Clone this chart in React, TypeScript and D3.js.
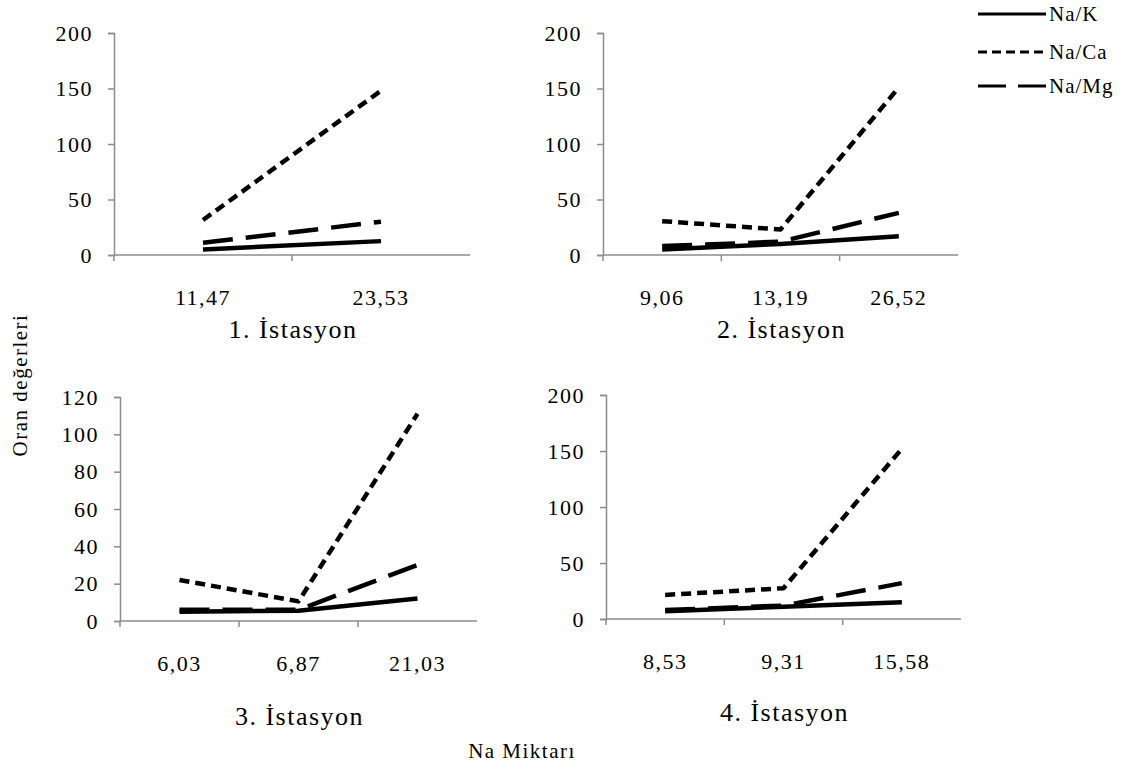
import React, { useEffect, useRef } from 'react'
import * as d3 from 'd3'

const seriesNames = ['Na/K', 'Na/Ca', 'Na/Mg']
const stationTitles = ['1. İstasyon', '2. İstasyon', '3. İstasyon', '4. İstasyon']
const stationCategories = [
  ['11,47', '23,53'],
  ['9,06', '13,19', '26,52'],
  ['6,03', '6,87', '21,03'],
  ['8,53', '9,31', '15,58'],
]
const naK = [
  [5, 12.5],
  [5, 10, 17],
  [5, 5.5, 12],
  [7, 11, 15],
]
const naCa = [
  [31.5, 148],
  [30.5, 23, 151],
  [22, 10.5, 111],
  [21.5, 27.5, 152],
]
const naMg = [
  [11, 30],
  [8, 12, 38],
  [6, 6, 30],
  [8, 12, 32],
]
const yMax = [200, 200, 120, 200]
const yStep = [50, 50, 20, 50]

// panel boxes: x0, x1 of axis, top (ymax) and bottom (zero)
const panels = [
  { x0: 114, x1: 470, top: 33, bottom: 255, titleY: 338 },
  { x0: 603, x1: 958, top: 33, bottom: 255, titleY: 338 },
  { x0: 120, x1: 477, top: 397, bottom: 621, titleY: 725 },
  { x0: 606, x1: 961, top: 395, bottom: 619, titleY: 721 },
]

const dashes = ['none', '10,6', '30,13']
const font = '"Liberation Serif", "Times New Roman", serif'

const styleText = (sel: any, size: number, ls: number) =>
  sel.attr('font-family', font).attr('font-size', size).attr('letter-spacing', ls).attr('fill', '#000')

export default function App() {
  const ref = useRef<SVGSVGElement>(null)

  useEffect(() => {
    const svg = d3.select(ref.current)
    svg.selectAll('*').remove()

    panels.forEach((p, i) => {
      const cats = stationCategories[i]
      const x = d3.scaleBand().domain(cats).range([p.x0, p.x1]).padding(0)
      const y = d3.scaleLinear().domain([0, yMax[i]]).range([p.bottom, p.top])
      const g = svg.append('g')

      const yAxis = d3.axisLeft(y).tickValues(d3.range(0, yMax[i] + 1, yStep[i])).tickSize(6).tickPadding(15)
      const ya = g.append('g').attr('transform', `translate(${p.x0},0)`).call(yAxis)
      ya.select('.domain').attr('stroke', '#8c8c8c').attr('stroke-width', 1.5)
      ya.selectAll('.tick line').attr('stroke', '#8c8c8c').attr('stroke-width', 1.5)
      styleText(ya.selectAll('.tick text'), 22, 1.5)

      const xTicks = d3.range(cats.length).map((k) => p.x0 + k * x.bandwidth())
      const xa = g.append('g')
      xa.append('line').attr('x1', p.x0).attr('x2', p.x1).attr('y1', p.bottom).attr('y2', p.bottom)
        .attr('stroke', '#8c8c8c').attr('stroke-width', 1.5)
      xa.selectAll('line.t').data(xTicks).enter().append('line')
        .attr('class', 't').attr('x1', (d) => d).attr('x2', (d) => d)
        .attr('y1', p.bottom).attr('y2', p.bottom + 6).attr('stroke', '#8c8c8c').attr('stroke-width', 1.5)
      styleText(
        xa.selectAll('text').data(cats).enter().append('text')
          .attr('x', (d) => (x(d) as number) + x.bandwidth() / 2)
          .attr('y', p.bottom + 50)
          .attr('text-anchor', 'middle')
          .text((d) => d),
        22, 1.5)

      styleText(
        g.append('text').attr('x', (p.x0 + p.x1) / 2 + 1).attr('y', p.titleY)
          .attr('text-anchor', 'middle').text(stationTitles[i]),
        26, 1.5)

      const line = d3.line<number>()
        .x((_, k) => (x(cats[k]) as number) + x.bandwidth() / 2)
        .y((d) => y(d))
      const data = [naK[i], naCa[i], naMg[i]]
      data.forEach((vals, s) => {
        g.append('path').attr('d', line(vals) as string).attr('fill', 'none')
          .attr('stroke', '#000').attr('stroke-width', 4.5)
          .attr('stroke-dasharray', dashes[s])
          .attr('stroke-linejoin', 'round')
      })
    })

    // legend
    const legY = [14, 52, 86]
    const leg = svg.append('g')
    seriesNames.forEach((name, s) => {
      leg.append('line').attr('x1', 978).attr('x2', 1046).attr('y1', legY[s]).attr('y2', legY[s])
        .attr('stroke', '#000').attr('stroke-width', 3).attr('stroke-dasharray', s === 1 ? '9,5' : s === 2 ? '28,12' : 'none')
      styleText(leg.append('text').attr('x', 1049).attr('y', legY[s] + 7).text(name), 21, 1)
    })

    styleText(
      svg.append('text').attr('transform', 'translate(27,385) rotate(-90)')
        .attr('text-anchor', 'middle').text('Oran değerleri'),
      21, 1.5)
    styleText(
      svg.append('text').attr('x', 522).attr('y', 758)
        .attr('text-anchor', 'middle').text('Na Miktarı'),
      21, 1.5)
  }, [])

  return (
    <svg ref={ref} width={1144} height={773} style={{ position: 'absolute', left: 0, top: 0, background: '#fff' }} />
  )
}
